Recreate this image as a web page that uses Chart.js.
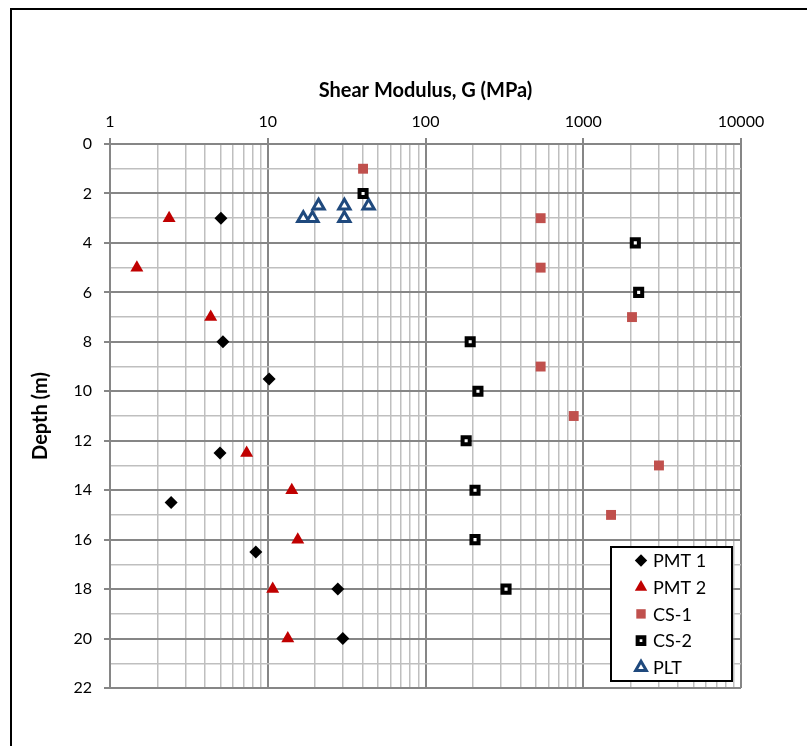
<!DOCTYPE html>
<html><head><meta charset="utf-8">
<script src="https://cdn.jsdelivr.net/npm/chart.js@4.4.0/dist/chart.umd.min.js"></script>
<style>
html,body{margin:0;padding:0;background:#fff;overflow:hidden;}
#wrap{position:relative;width:807px;height:746px;overflow:hidden;}
#frame{position:absolute;left:10px;top:8px;width:900px;height:900px;border:2px solid #000;box-sizing:border-box;}
canvas{position:absolute;left:0;top:0;}
</style></head><body>
<div id="wrap"><div id="frame"></div><canvas id="c" width="807" height="746"></canvas></div>
<script>
// ---- data ----
const pmt1G     = [5.05, 5.2, 10.2, 4.98, 2.44, 8.4, 27.8, 29.9];
const pmt1Depth = [3, 8, 9.5, 12.5, 14.5, 16.5, 18, 20];
const pmt2G     = [2.37, 1.48, 4.35, 7.35, 14.2, 15.5, 10.75, 13.4];
const pmt2Depth = [3, 5, 7, 12.5, 14, 16, 18, 20];
const cs1G      = [40.2, 537, 537, 2037, 537, 870, 3020, 1500];
const cs1Depth  = [1, 3, 5, 7, 9, 11, 13, 15];
const cs2G      = [40.2, 2138, 2245, 192, 215, 181, 206, 206, 324];
const cs2Depth  = [2, 4, 6, 8, 10, 12, 14, 16, 18];
const pltG      = [21.0, 16.8, 19.2, 30.6, 30.6, 43.6];
const pltDepth  = [2.5, 3, 3, 2.5, 3, 2.5];

const seriesNames = ['PMT 1', 'PMT 2', 'CS-1', 'CS-2', 'PLT'];
const xTickLabels = ['1', '10', '100', '1000', '10000'];
const xMajorValues = [1, 10, 100, 1000, 10000];
const yTickLabels = ['0','2','4','6','8','10','12','14','16','18','20','22'];
const yMajorValues = [0,2,4,6,8,10,12,14,16,18,20,22];

// gridline positions (minor lines at 2..9 per decade, every 1 m in depth)
const xGridValues = [];
for (let e = 0; e < 4; e++) for (let m = 1; m < 10; m++) xGridValues.push(m * Math.pow(10, e));
xGridValues.push(10000);
const yGridValues = [];
for (let v = 0; v <= 22; v++) yGridValues.push(v);

const pts = (g, d) => g.map((v, i) => ({x: v, y: d[i]}));
const isMajorX = v => Math.abs(Math.log10(v) - Math.round(Math.log10(v))) < 1e-9;
const isMajorY = v => yMajorValues.indexOf(v) >= 0;

const MAJOR = '#868686', MINOR = '#BFBFBF';

const datasets = [
  {label: seriesNames[0], data: pts(pmt1G, pmt1Depth), pointStyle: 'rectRot', pointRadius: 6.5,
   pointBackgroundColor: '#000', pointBorderColor: '#000', pointBorderWidth: 0},
  {label: seriesNames[1], data: pts(pmt2G, pmt2Depth), pointStyle: 'triangle', pointRadius: 7.5,
   pointBackgroundColor: '#C00000', pointBorderColor: '#C00000', pointBorderWidth: 0},
  {label: seriesNames[2], data: pts(cs1G, cs1Depth), pointStyle: 'rect', pointRadius: 7,
   pointBackgroundColor: '#C0504D', pointBorderColor: '#C0504D', pointBorderWidth: 0},
  {label: seriesNames[3], data: pts(cs2G, cs2Depth), pointStyle: 'rect', pointRadius: 5,
   pointBackgroundColor: '#ffffff', pointBorderColor: '#000', pointBorderWidth: 4},
  {label: seriesNames[4], data: pts(pltG, pltDepth), pointStyle: 'triangle', pointRadius: 6.5,
   pointBackgroundColor: '#ffffff', pointBorderColor: '#1F497D', pointBorderWidth: 3}
];
datasets.forEach(d => { d.showLine = false; });

function marker(ctx, ds, x, y, scale) {
  const r = ds.pointRadius * scale;
  ctx.fillStyle = ds.pointBackgroundColor;
  ctx.strokeStyle = ds.pointBorderColor;
  ctx.lineWidth = ds.pointBorderWidth;
  if (Chart.helpers && Chart.helpers.drawPoint) {
    Chart.helpers.drawPoint(ctx, {pointStyle: ds.pointStyle, radius: r, borderWidth: ds.pointBorderWidth, rotation: 0}, x, y);
    return;
  }
  ctx.beginPath();
  if (ds.pointStyle === 'rectRot') {
    ctx.moveTo(x - r, y); ctx.lineTo(x, y - r); ctx.lineTo(x + r, y); ctx.lineTo(x, y + r);
  } else if (ds.pointStyle === 'triangle') {
    ctx.moveTo(x, y - r); ctx.lineTo(x + 0.866 * r, y + r / 2); ctx.lineTo(x - 0.866 * r, y + r / 2);
  } else {
    const s = r * Math.SQRT1_2; ctx.rect(x - s, y - s, 2 * s, 2 * s);
  }
  ctx.closePath(); ctx.fill(); if (ds.pointBorderWidth > 0) ctx.stroke();
}

const boxLegend = {
  id: 'boxLegend',
  afterDatasetsDraw(chart) {
    const ctx = chart.ctx;
    ctx.save();
    const L = 611, T = 547, W = 121, H = 134;
    ctx.fillStyle = '#fff'; ctx.fillRect(L, T, W, H);
    ctx.lineWidth = 2; ctx.strokeStyle = '#000'; ctx.strokeRect(L, T, W, H);
    chart.data.datasets.forEach((ds, i) => {
      const y = T + 13.5 + i * 26.7;
      marker(ctx, ds, 641, y, 0.95);
      ctx.font = '18px Lato';
      ctx.textBaseline = 'middle';
      ctx.textAlign = 'left';
      ctx.fillStyle = '#000';
      ctx.fillText(ds.label, 653, y + 1);
    });
    ctx.restore();
  }
};

new Chart(document.getElementById('c'), {
  type: 'scatter',
  data: {datasets},
  plugins: [boxLegend],
  options: {
    responsive: false,
    animation: false,
    events: [],
    layout: {padding: {left: 0, top: 0, right: 66, bottom: 58}},
    plugins: {legend: {display: false}, tooltip: {enabled: false}},
    scales: {
      x: {
        type: 'logarithmic', position: 'top', min: 1, max: 10000,
        afterBuildTicks(s) { s.ticks = xGridValues.map(v => ({value: v})); },
        afterFit(s) { s.height = 144; },
        ticks: {
          autoSkip: false, maxRotation: 0, minRotation: 0, padding: 7, color: '#000',
          font: {family: 'Lato', size: 16},
          callback: (v) => { const i = xMajorValues.indexOf(v); return i >= 0 ? xTickLabels[i] : ''; }
        },
        grid: {
          color: c => (c.tick && isMajorX(c.tick.value)) ? MAJOR : MINOR,
          lineWidth: c => (c.tick && isMajorX(c.tick.value)) ? 2 : 1.5,
          tickColor: c => (c.tick && isMajorX(c.tick.value)) ? MAJOR : 'rgba(0,0,0,0)',
          tickLength: 6
        },
        border: {display: true, color: MAJOR, width: 2},
        title: {display: true, text: 'Shear Modulus, G (MPa)', color: '#000',
                font: {family: 'Lato', size: 20, weight: 'bold'}, padding: {top: 79, bottom: 0}}
      },
      y: {
        type: 'linear', reverse: true, min: 0, max: 22,
        afterBuildTicks(s) { s.ticks = yGridValues.map(v => ({value: v})); },
        afterFit(s) { s.width = 110; },
        ticks: {
          autoSkip: false, padding: 12, color: '#000',
          font: {family: 'Lato', size: 16},
          callback: (v) => { const i = yMajorValues.indexOf(v); return i >= 0 ? yTickLabels[i] : ''; }
        },
        grid: {
          color: c => (c.tick && isMajorY(c.tick.value)) ? MAJOR : MINOR,
          lineWidth: c => (c.tick && isMajorY(c.tick.value)) ? 2 : 1.5,
          tickColor: c => (c.tick && isMajorY(c.tick.value)) ? MAJOR : 'rgba(0,0,0,0)',
          tickLength: 6
        },
        border: {display: true, color: MAJOR, width: 2},
        title: {display: true, text: 'Depth (m)', color: '#000',
                font: {family: 'Lato', size: 20, weight: 'bold'}, padding: {top: 29, bottom: 0}}
      }
    }
  }
});
</script>
</body></html>
